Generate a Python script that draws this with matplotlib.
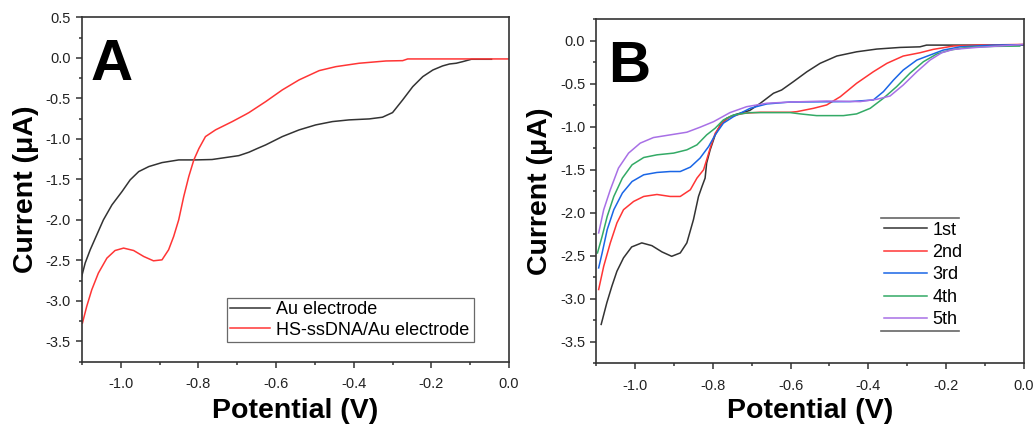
import matplotlib
matplotlib.use("Agg")
import matplotlib.pyplot as plt
from matplotlib.ticker import MultipleLocator, AutoMinorLocator, FormatStrFormatter

plt.rcParams['font.family'] = ['Liberation Sans', 'DejaVu Sans']
plt.rcParams['axes.unicode_minus'] = False

# ---------------- Panel A data ----------------
a_au_x = [-1.102, -1.092, -1.079, -1.062, -1.045, -1.023, -0.997, -0.976, -0.954, -0.928,
          -0.894, -0.851, -0.808, -0.765, -0.696, -0.670, -0.648, -0.627, -0.584, -0.541,
          -0.498, -0.455, -0.412, -0.360, -0.326, -0.300, -0.274, -0.248, -0.222, -0.196,
          -0.171, -0.153, -0.136, -0.119, -0.097, -0.045]
a_au_y = [-2.718, -2.533, -2.369, -2.184, -2.000, -1.815, -1.650, -1.506, -1.404, -1.342,
          -1.293, -1.260, -1.260, -1.255, -1.207, -1.165, -1.118, -1.075, -0.972, -0.890,
          -0.828, -0.787, -0.766, -0.754, -0.733, -0.676, -0.520, -0.356, -0.232, -0.150,
          -0.100, -0.076, -0.067, -0.047, -0.018, -0.018]

a_dna_x = [-1.099, -1.088, -1.075, -1.058, -1.036, -1.015, -0.993, -0.967, -0.941, -0.916,
           -0.894, -0.877, -0.864, -0.851, -0.838, -0.825, -0.812, -0.799, -0.782, -0.756,
           -0.713, -0.679, -0.670, -0.627, -0.584, -0.541, -0.489, -0.446, -0.386, -0.317,
           -0.274, -0.261, -0.153, 0.0]
a_dna_y = [-3.273, -3.068, -2.863, -2.657, -2.472, -2.378, -2.348, -2.378, -2.452, -2.505,
           -2.493, -2.369, -2.205, -2.000, -1.712, -1.465, -1.260, -1.120, -0.972, -0.889,
           -0.787, -0.700, -0.676, -0.541, -0.396, -0.273, -0.158, -0.109, -0.067, -0.039,
           -0.035, -0.014, -0.014, -0.014]

a_labels = ['Au electrode', 'HS-ssDNA/Au electrode']

# ---------------- Panel B data ----------------
b1_x = [-1.0875, -1.073, -1.060, -1.047, -1.030, -1.009, -0.983, -0.957, -0.931, -0.906,
        -0.884, -0.867, -0.850, -0.837, -0.828, -0.820, -0.816, -0.807, -0.794, -0.781,
        -0.764, -0.740, -0.705, -0.678, -0.644, -0.623, -0.593, -0.558, -0.524, -0.481,
        -0.430, -0.378, -0.318, -0.267, -0.250, -0.164, 0.0]
b1_y = [-3.298, -3.047, -2.854, -2.680, -2.524, -2.397, -2.350, -2.382, -2.455, -2.506,
        -2.467, -2.350, -2.080, -1.810, -1.694, -1.597, -1.422, -1.268, -1.094, -0.978,
        -0.900, -0.855, -0.810, -0.727, -0.610, -0.572, -0.476, -0.360, -0.262, -0.177,
        -0.128, -0.096, -0.077, -0.070, -0.050, -0.050, -0.050]

b2_x = [-1.094, -1.081, -1.064, -1.047, -1.030, -1.004, -0.978, -0.944, -0.910, -0.884,
        -0.858, -0.841, -0.824, -0.816, -0.807, -0.794, -0.777, -0.756, -0.721, -0.678,
        -0.601, -0.584, -0.541, -0.507, -0.472, -0.430, -0.387, -0.352, -0.310, -0.267,
        -0.233, -0.181, -0.121, 0.0]
b2_y = [-2.892, -2.622, -2.350, -2.118, -1.964, -1.868, -1.810, -1.787, -1.810, -1.810,
        -1.732, -1.597, -1.500, -1.384, -1.249, -1.075, -0.959, -0.882, -0.843, -0.831,
        -0.831, -0.824, -0.785, -0.746, -0.650, -0.494, -0.360, -0.262, -0.177, -0.139,
        -0.100, -0.061, -0.050, -0.042]

b3_x = [-1.094, -1.085, -1.072, -1.055, -1.033, -1.008, -0.978, -0.944, -0.910, -0.884,
        -0.858, -0.833, -0.811, -0.794, -0.773, -0.747, -0.704, -0.661, -0.601, -0.447,
        -0.387, -0.361, -0.335, -0.310, -0.275, -0.241, -0.207, -0.164, -0.078, 0.0]
b3_y = [-2.641, -2.467, -2.196, -1.964, -1.771, -1.636, -1.558, -1.531, -1.520, -1.520,
        -1.469, -1.364, -1.230, -1.094, -0.958, -0.882, -0.785, -0.734, -0.712, -0.707,
        -0.688, -0.591, -0.456, -0.340, -0.224, -0.166, -0.108, -0.070, -0.050, -0.045]

b4_x = [-1.097, -1.085, -1.072, -1.055, -1.033, -1.008, -0.978, -0.944, -0.901, -0.867,
        -0.841, -0.816, -0.794, -0.773, -0.747, -0.704, -0.601, -0.575, -0.533, -0.464,
        -0.430, -0.395, -0.361, -0.327, -0.293, -0.258, -0.224, -0.190, -0.147, -0.078,
        -0.010]
b4_y = [-2.467, -2.273, -2.042, -1.810, -1.597, -1.442, -1.357, -1.326, -1.306, -1.268,
        -1.210, -1.094, -1.016, -0.920, -0.862, -0.835, -0.835, -0.850, -0.870, -0.870,
        -0.850, -0.785, -0.668, -0.533, -0.378, -0.243, -0.154, -0.108, -0.077, -0.065,
        -0.061]

b5_x = [-1.094, -1.081, -1.064, -1.043, -1.017, -0.987, -0.953, -0.910, -0.867, -0.833,
        -0.798, -0.756, -0.713, -0.661, -0.601, -0.507, -0.421, -0.378, -0.344, -0.310,
        -0.275, -0.241, -0.211, -0.181, -0.121, 0.0]
b5_y = [-2.234, -1.964, -1.732, -1.480, -1.306, -1.190, -1.125, -1.094, -1.063, -1.005,
        -0.940, -0.835, -0.766, -0.726, -0.712, -0.700, -0.707, -0.680, -0.642, -0.514,
        -0.360, -0.224, -0.139, -0.100, -0.077, -0.042]

b_labels = ['1st', '2nd', '3rd', '4th', '5th']
b_colors = ['#333333', '#ff3535', '#1a66e6', '#33aa66', '#a870e6']
a_colors = ['#333333', '#ff3535']

fig = plt.figure(figsize=(10.36, 4.28), dpi=100)
axA = fig.add_axes([0.0792, 0.1549, 0.4121, 0.8047])
axB = fig.add_axes([0.5756, 0.1512, 0.4125, 0.8037])

axA.plot(a_au_x, a_au_y, color=a_colors[0], lw=1.1, label=a_labels[0])
axA.plot(a_dna_x, a_dna_y, color=a_colors[1], lw=1.1, label=a_labels[1])

for xs, ys, c, lab in zip([b1_x, b2_x, b3_x, b4_x, b5_x],
                          [b1_y, b2_y, b3_y, b4_y, b5_y], b_colors, b_labels):
    axB.plot(xs, ys, color=c, lw=1.1, label=lab)

axA.set_xlim(-1.1, 0.0)
axA.set_ylim(-3.75, 0.5)
axB.set_xlim(-1.1, 0.0)
axB.set_ylim(-3.75, 0.25)

for ax in (axA, axB):
    ax.xaxis.set_major_locator(MultipleLocator(0.2))
    ax.xaxis.set_minor_locator(AutoMinorLocator(2))
    ax.yaxis.set_major_locator(MultipleLocator(0.5))
    ax.yaxis.set_minor_locator(AutoMinorLocator(2))
    ax.xaxis.set_major_formatter(FormatStrFormatter('%.1f'))
    ax.yaxis.set_major_formatter(FormatStrFormatter('%.1f'))
    ax.tick_params(which='both', direction='out', top=False, right=False,
                   color='#333333', labelcolor='#222222', labelsize=10.5, width=1.1)
    ax.tick_params(which='major', length=4.5)
    ax.tick_params(which='minor', length=2.5)
    ax.tick_params(axis='y', pad=3.5)
    ax.tick_params(axis='x', pad=6.5)
    for s in ax.spines.values():
        s.set_color('#333333')
        s.set_linewidth(1.2)
    ax.set_xlabel('Potential (V)', fontsize=20.5, fontweight='bold', va='center')
    ax.set_ylabel('Current (\u03bcA)', fontsize=20.5, fontweight='bold', va='center')

axA.xaxis.set_label_coords(0.5, -0.143)
axA.yaxis.set_label_coords(-0.131, 0.5)
axB.xaxis.set_label_coords(0.5, -0.139)
axB.yaxis.set_label_coords(-0.132, 0.5)

axA.text(0.021, 0.818, 'A', transform=axA.transAxes, fontsize=42, fontweight='bold',
         ha='left', va='baseline')
axB.text(0.027, 0.819, 'B', transform=axB.transAxes, fontsize=42, fontweight='bold',
         ha='left', va='baseline')

legA = axA.legend(loc='lower left', bbox_to_anchor=(0.339, 0.056, 0.578, 0.136),
                  mode='expand', fontsize=13, frameon=True, fancybox=False,
                  handlelength=2.2, handletextpad=0.3, borderpad=0.2,
                  labelspacing=0.2, borderaxespad=0)
legA.get_frame().set_edgecolor('#444444')
legA.get_frame().set_linewidth(0.9)

legB = axB.legend(loc='lower left', bbox_to_anchor=(0.666, 0.094, 0.182, 0.328),
                  mode='expand', fontsize=13, frameon=False,
                  handlelength=2.4, handletextpad=0.3, borderpad=0.15,
                  labelspacing=0.3, borderaxespad=0)
axB.plot([0.666, 0.848], [0.422, 0.422], transform=axB.transAxes, color='#666666', lw=1.2,
         clip_on=False)
axB.plot([0.666, 0.848], [0.094, 0.094], transform=axB.transAxes, color='#666666', lw=1.2,
         clip_on=False)

fig.savefig('out.png', dpi=100)
